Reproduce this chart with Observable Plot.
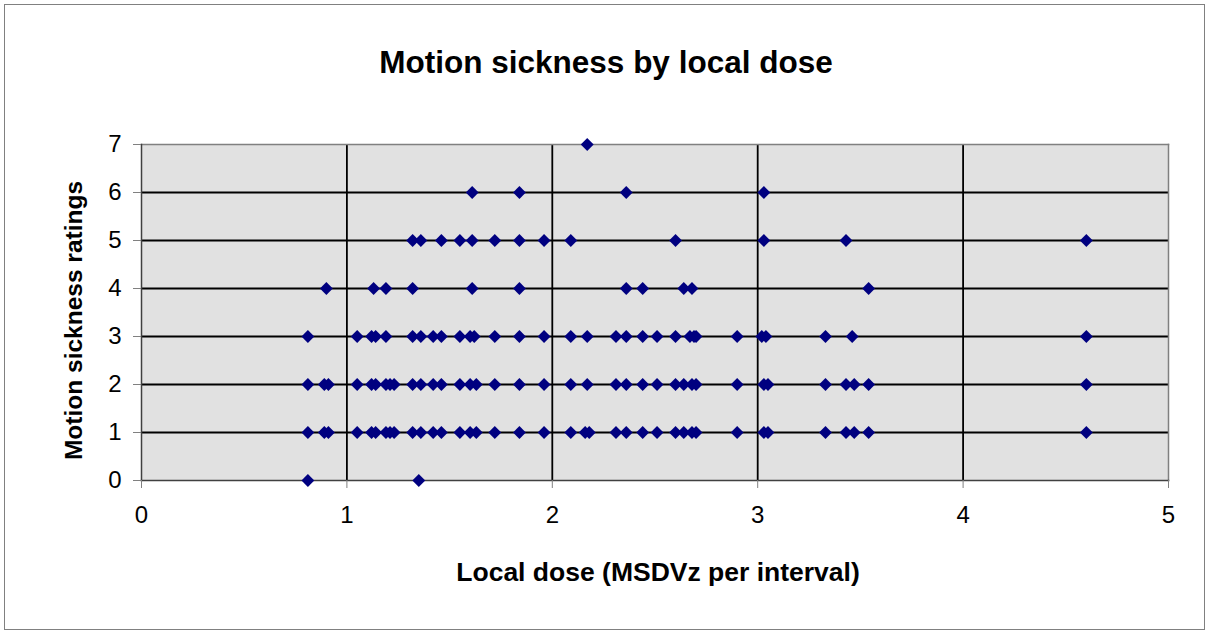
<!DOCTYPE html>
<html>
<head>
<meta charset="utf-8">
<script src="https://cdn.jsdelivr.net/npm/d3@7"></script>
<script src="https://cdn.jsdelivr.net/npm/@observablehq/plot@0.6"></script>
<style>
  html, body { margin: 0; padding: 0; background: #fff; }
  #wrap { position: relative; width: 1210px; height: 634px; }
  #border { position: absolute; left: 4px; top: 4px; width: 1201px; height: 626px; box-sizing: border-box; border: 1px solid #808080; pointer-events: none; }
  #chart { position: absolute; left: 0; top: 0; }
</style>
</head>
<body>
<div id="wrap"><div id="chart"></div><div id="border"></div></div>
<script>
const title = "Motion sickness by local dose";
const xLabel = "Local dose (MSDVz per interval)";
const yLabel = "Motion sickness ratings";
const xTicks = [0, 1, 2, 3, 4, 5];
const yTicks = [0, 1, 2, 3, 4, 5, 6, 7];

// Local dose values for each motion sickness rating
const rating0 = [0.81, 1.35];
const rating1 = [0.81, 0.89, 0.91, 1.05, 1.12, 1.14, 1.19, 1.21, 1.23, 1.32, 1.36, 1.42, 1.46, 1.55, 1.60, 1.63, 1.72, 1.84, 1.96, 2.09, 2.16, 2.18, 2.31, 2.36, 2.44, 2.51, 2.60, 2.64, 2.68, 2.70, 2.90, 3.03, 3.05, 3.33, 3.43, 3.47, 3.54, 4.60];
const rating2 = [0.81, 0.89, 0.91, 1.05, 1.12, 1.14, 1.19, 1.21, 1.23, 1.32, 1.36, 1.42, 1.46, 1.55, 1.60, 1.63, 1.72, 1.84, 1.96, 2.09, 2.17, 2.31, 2.36, 2.44, 2.51, 2.60, 2.64, 2.68, 2.70, 2.90, 3.03, 3.05, 3.33, 3.43, 3.47, 3.54, 4.60];
const rating3 = [0.81, 1.05, 1.12, 1.14, 1.19, 1.32, 1.36, 1.42, 1.46, 1.55, 1.60, 1.62, 1.72, 1.84, 1.96, 2.09, 2.17, 2.31, 2.36, 2.44, 2.51, 2.60, 2.67, 2.69, 2.70, 2.90, 3.02, 3.04, 3.33, 3.46, 4.60];
const rating4 = [0.90, 1.13, 1.19, 1.32, 1.61, 1.84, 2.36, 2.44, 2.64, 2.68, 3.54];
const rating5 = [1.32, 1.36, 1.46, 1.55, 1.61, 1.72, 1.84, 1.96, 2.09, 2.60, 3.03, 3.43, 4.60];
const rating6 = [1.61, 1.84, 2.36, 3.03];
const rating7 = [2.17];

const rows = [rating0, rating1, rating2, rating3, rating4, rating5, rating6, rating7];
const data = rows.flatMap((xs, r) => xs.map(x => ({dose: x, rating: r})));

const font = "'Liberation Sans', Arial, Helvetica, sans-serif";

const chart = Plot.plot({
  width: 1210,
  height: 634,
  marginLeft: 141,
  marginRight: 42,
  marginTop: 144,
  marginBottom: 154,
  style: {fontFamily: font, color: "#000", background: "transparent", overflow: "visible"},
  x: {domain: [0, 5]},
  y: {domain: [0, 7]},
  marks: [
    Plot.frame({fill: "#e1e1e1", stroke: null}),
    Plot.ruleY(yTicks.filter(d => d > 0 && d < 7), {stroke: "#000", strokeWidth: 1.8}),
    Plot.ruleX(xTicks.filter(d => d > 0 && d < 5), {stroke: "#000", strokeWidth: 1.8}),
    Plot.frame({anchor: "top", stroke: "#808080", strokeWidth: 1.5}),
    Plot.frame({anchor: "right", stroke: "#808080", strokeWidth: 1.5}),
    Plot.frame({anchor: "left", stroke: "#404040", strokeWidth: 1.5}),
    Plot.frame({anchor: "bottom", stroke: "#404040", strokeWidth: 1.5}),
    Plot.axisY({ticks: yTicks, tickSize: 8, tickPadding: 12, fontSize: 24, stroke: "#808080", fill: "#000", label: null, tickFormat: d => String(d)}),
    Plot.axisX({ticks: xTicks, tickSize: 8, tickPadding: 17, fontSize: 24, stroke: "#808080", fill: "#000", label: null, tickFormat: d => String(d)}),
    Plot.dot(data, {x: "dose", y: "rating", symbol: "diamond2", r: 5.8, fill: "#000080", stroke: null}),
    Plot.text([title], {frameAnchor: "top", dx: -49, dy: -82, fontSize: 31.5, fontWeight: "bold", fill: "#000", lineAnchor: "middle", textAnchor: "middle"}),
    Plot.text([xLabel], {frameAnchor: "bottom", dx: 3, dy: 92, fontSize: 26.5, fontWeight: "bold", fill: "#000", lineAnchor: "middle", textAnchor: "middle"}),
    Plot.text([yLabel], {frameAnchor: "left", dx: -67, dy: 8, rotate: -90, fontSize: 24.5, fontWeight: "bold", fill: "#000", lineAnchor: "middle", textAnchor: "middle"})
  ]
});
document.getElementById("chart").appendChild(chart);
</script>
</body>
</html>
